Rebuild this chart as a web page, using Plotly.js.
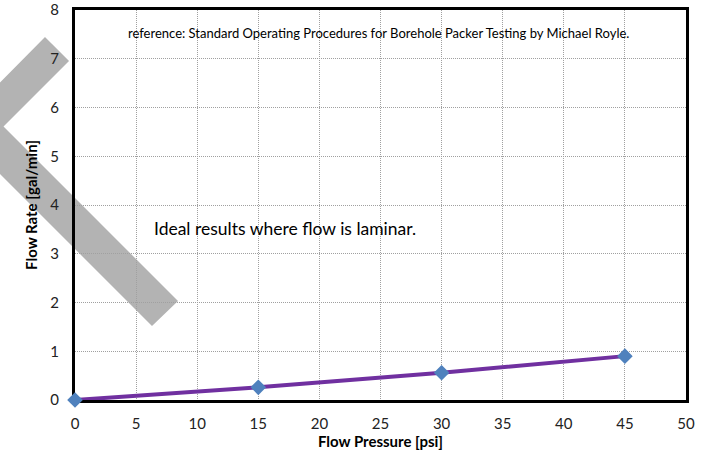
<!DOCTYPE html>
<html>
<head>
<meta charset="utf-8">
<script src="https://cdn.plot.ly/plotly-3.0.1.min.js"></script>
<style>html,body{margin:0;padding:0;background:#fff;}#chart{width:706px;height:451px;}</style>
</head>
<body>
<div id="chart"></div>
<script>
const pressure = [0, 15, 30, 45];
const flowRate = [0, 0.26, 0.56, 0.9];
const xTicks = [0, 5, 10, 15, 20, 25, 30, 35, 40, 45, 50];
const yTicks = [0, 1, 2, 3, 4, 5, 6, 7, 8];
const xTitle = 'Flow Pressure [psi]';
const yTitle = 'Flow Rate [gal/min]';
const noteRef = 'reference: Standard Operating Procedures for Borehole Packer Testing by Michael Royle.';
const noteIdeal = 'Ideal results where flow is laminar.';

const W = 706, H = 451;
const M = {l: 75, r: 20, t: 10, b: 51};
const pw = W - M.l - M.r, ph = H - M.t - M.b;
function px2paper(x, y) { return [(x - M.l) / pw, (H - M.b - y) / ph]; }
const chevronPx = [[45,37],[69,61],[3.5,126.5],[178,301],[152,326],[-45.5,128.5]];
const chevronPath = chevronPx.map((p, i) => {
  const q = px2paper(p[0], p[1]);
  return (i === 0 ? 'M' : 'L') + q[0].toFixed(4) + ',' + q[1].toFixed(4);
}).join(' ') + ' Z';

const font = 'Lato, "Open Sans", sans-serif';

const trace = {
  x: pressure, y: flowRate, type: 'scatter', mode: 'lines+markers',
  line: {color: '#7030A0', width: 4},
  marker: {symbol: 'diamond', size: 12, color: '#4F81BD'},
  cliponaxis: false, hoverinfo: 'none'
};

const axisCommon = {
  showline: true, mirror: true, linecolor: '#000', linewidth: 3,
  showgrid: true, gridcolor: '#a0a0a0', gridwidth: 1, griddash: '1px,1px',
  zeroline: false, ticks: 'outside', tickcolor: 'rgba(0,0,0,0)', layer: 'below traces',
  tickfont: {family: font, size: 15, color: '#222'}
};

const layout = {
  width: W, height: H,
  margin: M,
  paper_bgcolor: '#fff', plot_bgcolor: 'rgba(0,0,0,0)',
  showlegend: false,
  xaxis: Object.assign({}, axisCommon, {
    range: [0, 50], tickvals: xTicks, ticktext: xTicks.map(String), ticklen: 8,
    title: {text: xTitle, font: {family: font, size: 15, color: '#000', weight: 'bold'}, standoff: 0}
  }),
  yaxis: Object.assign({}, axisCommon, {
    range: [0, 8], tickvals: yTicks, ticktext: yTicks.map(String), ticklen: 10,
    title: {text: yTitle, font: {family: font, size: 15, color: '#000', weight: 'bold'}, standoff: 10}
  }),
  shapes: [{
    type: 'path', xref: 'paper', yref: 'paper', layer: 'below',
    path: chevronPath, fillcolor: '#b3b3b3', line: {width: 0}
  }],
  annotations: [
    {text: noteRef, xref: 'paper', yref: 'paper', x: (378 - M.l) / pw, y: (H - M.b - 33) / ph,
     showarrow: false, font: {family: font, size: 13, color: '#000'}, xanchor: 'center', yanchor: 'middle'},
    {text: noteIdeal, xref: 'paper', yref: 'paper', x: (152 - M.l) / pw, y: (H - M.b - 228) / ph,
     showarrow: false, font: {family: font, size: 17.5, color: '#000'}, xanchor: 'left', yanchor: 'middle'}
  ]
};

Plotly.newPlot('chart', [trace], layout, {staticPlot: true, displayModeBar: false});
</script>
</body>
</html>
